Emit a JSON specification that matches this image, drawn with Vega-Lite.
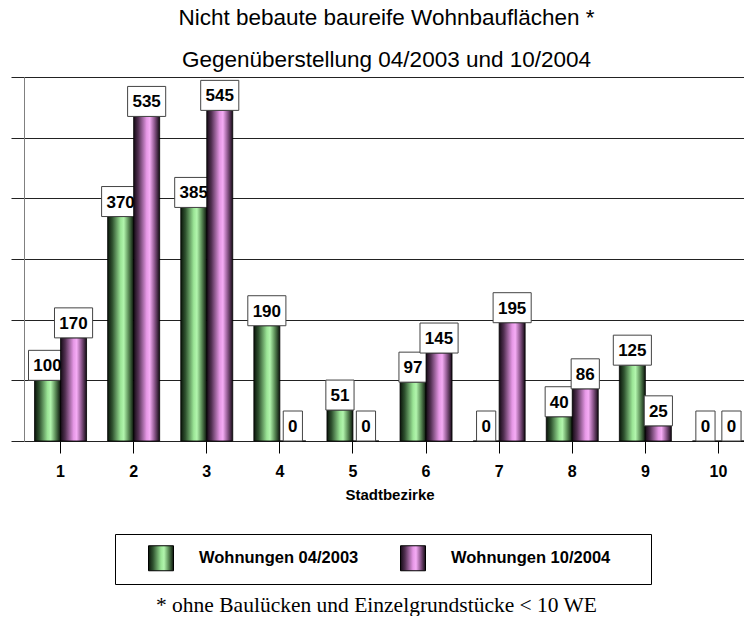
{
  "$schema": "https://vega.github.io/schema/vega-lite/v6.json",
  "padding": {"left": 10, "right": 0, "top": 7, "bottom": 0},
  "background": "white",
  "config": {"view": {"stroke": null}, "font": "Liberation Sans"},
  "title": {
    "text": "* ohne Baulücken und Einzelgrundstücke < 10 WE",
    "orient": "bottom",
    "anchor": "middle",
    "frame": "group",
    "font": "Liberation Serif",
    "fontSize": 21.5,
    "fontWeight": "normal",
    "color": "#000",
    "offset": 10,
    "dx": -8
  },
  "datasets": {
    "wohn": [
      {"bezirk": 1, "serie": "Wohnungen 04/2003", "wert": 100},
      {"bezirk": 1, "serie": "Wohnungen 10/2004", "wert": 170},
      {"bezirk": 2, "serie": "Wohnungen 04/2003", "wert": 370},
      {"bezirk": 2, "serie": "Wohnungen 10/2004", "wert": 535},
      {"bezirk": 3, "serie": "Wohnungen 04/2003", "wert": 385},
      {"bezirk": 3, "serie": "Wohnungen 10/2004", "wert": 545},
      {"bezirk": 4, "serie": "Wohnungen 04/2003", "wert": 190},
      {"bezirk": 4, "serie": "Wohnungen 10/2004", "wert": 0},
      {"bezirk": 5, "serie": "Wohnungen 04/2003", "wert": 51},
      {"bezirk": 5, "serie": "Wohnungen 10/2004", "wert": 0},
      {"bezirk": 6, "serie": "Wohnungen 04/2003", "wert": 97},
      {"bezirk": 6, "serie": "Wohnungen 10/2004", "wert": 145},
      {"bezirk": 7, "serie": "Wohnungen 04/2003", "wert": 0},
      {"bezirk": 7, "serie": "Wohnungen 10/2004", "wert": 195},
      {"bezirk": 8, "serie": "Wohnungen 04/2003", "wert": 40},
      {"bezirk": 8, "serie": "Wohnungen 10/2004", "wert": 86},
      {"bezirk": 9, "serie": "Wohnungen 04/2003", "wert": 125},
      {"bezirk": 9, "serie": "Wohnungen 10/2004", "wert": 25},
      {"bezirk": 10, "serie": "Wohnungen 04/2003", "wert": 0},
      {"bezirk": 10, "serie": "Wohnungen 10/2004", "wert": 0}
    ]
  },
  "vconcat": [
    {
      "width": 721,
      "height": 364,
      "data": {"name": "wohn"},
      "title": {
        "text": ["Nicht bebaute baureife Wohnbauflächen *", "Gegenüberstellung 04/2003 und 10/2004"],
        "anchor": "middle",
        "frame": "group",
        "font": "Liberation Sans",
        "fontSize": 22.5,
        "fontWeight": "normal",
        "lineHeight": 42,
        "baseline": "alphabetic",
        "offset": -13,
        "dx": 2,
        "color": "#000"
      },
      "encoding": {
        "x": {
          "field": "bezirk",
          "type": "ordinal",
          "scale": {"paddingInner": 0, "paddingOuter": 0, "range": [0, 731]},
          "axis": {
            "labelAngle": 0,
            "labelFont": "Liberation Sans",
            "labelFontWeight": "bold",
            "labelFontSize": 16,
            "labelColor": "#000",
            "labelPadding": 10,
            "tickSize": 12,
            "tickColor": "#000",
            "domain": false,
            "grid": false,
            "title": "Stadtbezirke",
            "titleFont": "Liberation Sans",
            "titleFontSize": 15,
            "titleFontWeight": "bold",
            "titleColor": "#000",
            "titlePadding": 8
          }
        },
        "xOffset": {
          "field": "serie",
          "type": "nominal",
          "scale": {"domain": ["Wohnungen 04/2003", "Wohnungen 10/2004"], "paddingInner": 0, "paddingOuter": 0.406}
        },
        "y": {
          "field": "wert",
          "type": "quantitative",
          "scale": {"domain": [0, 600], "nice": false},
          "axis": {
            "labels": false,
            "ticks": true,
            "tickSize": 13,
            "tickColor": "#222",
            "domainColor": "#808080",
            "grid": true,
            "gridColor": "#222",
            "gridOpacity": 1,
            "gridWidth": 1,
            "values": [0, 100, 200, 300, 400, 500, 600],
            "title": null
          }
        }
      },
      "layer": [
        {
          "transform": [{"filter": "datum.serie === 'Wohnungen 04/2003'"}],
          "mark": {"type": "bar", "stroke": "#000", "strokeWidth": 0.8},
          "encoding": {
            "fill": {
              "field": "serie",
              "type": "nominal",
              "scale": {
                "domain": ["Wohnungen 04/2003", "Wohnungen 10/2004"],
                "range": [
                  {"expr": "{gradient: 'linear', x1: 0, y1: 0, x2: 1, y2: 0, stops: [{offset: 0, color: '#0a140a'}, {offset: 0.18, color: '#2f522f'}, {offset: 0.5, color: '#9be596'}, {offset: 0.62, color: '#b2f5ad'}, {offset: 0.8, color: '#5d8f59'}, {offset: 1, color: '#0a140a'}]}"},
                  {"expr": "{gradient: 'linear', x1: 0, y1: 0, x2: 1, y2: 0, stops: [{offset: 0, color: '#140a14'}, {offset: 0.18, color: '#523052'}, {offset: 0.5, color: '#e597e5'}, {offset: 0.62, color: '#f5acf5'}, {offset: 0.8, color: '#8f598f'}, {offset: 1, color: '#140a14'}]}"}
                ]
              },
              "legend": {
                "orient": "none",
                "legendX": 91,
                "legendY": 457,
                "direction": "horizontal",
                "title": "\u00a0",
                "titleOrient": "right",
                "titleFontSize": 6,
                "titlePadding": 30,
                "padding": 11,
                "symbolOffset": 22,
                "symbolType": "square",
                "symbolSize": 625,
                "symbolStrokeColor": "#000",
                "symbolStrokeWidth": 1,
                "symbolOpacity": 1,
                "labelOffset": 25,
                "columnPadding": 19,
                "labelFont": "Liberation Sans",
                "labelFontSize": 16.5,
                "labelFontWeight": "bold",
                "labelColor": "#000",
                "labelLimit": 300,
                "strokeColor": "#000",
                "fillColor": "white"
              }
            }
          }
        },
        {
          "transform": [{"filter": "datum.serie === 'Wohnungen 04/2003'"}],
          "mark": {
            "type": "point",
            "filled": true,
            "fill": "white",
            "stroke": "#444",
            "strokeWidth": 1,
            "size": 900,
            "opacity": 1,
            "yOffset": -15
          },
          "encoding": {
            "shape": {
              "condition": [
                {"test": "datum.wert >= 100", "value": "M-1.27,-1H1.27V1H-1.27Z"},
                {"test": "datum.wert >= 10", "value": "M-0.94,-1H0.94V1H-0.94Z"}
              ],
              "value": "M-0.64,-1H0.64V1H-0.64Z"
            }
          }
        },
        {
          "transform": [{"filter": "datum.serie === 'Wohnungen 04/2003'"}],
          "mark": {
            "type": "text",
            "font": "Liberation Sans",
            "fontSize": 17,
            "fontWeight": "bold",
            "baseline": "middle",
            "yOffset": -14,
            "color": "#000"
          },
          "encoding": {
            "text": {"field": "wert", "type": "quantitative"}
          }
        },
        {
          "transform": [{"filter": "datum.serie === 'Wohnungen 10/2004'"}],
          "mark": {"type": "bar", "stroke": "#000", "strokeWidth": 0.8},
          "encoding": {
            "fill": {
              "field": "serie",
              "type": "nominal",
              "scale": {
                "domain": ["Wohnungen 04/2003", "Wohnungen 10/2004"],
                "range": [
                  {"expr": "{gradient: 'linear', x1: 0, y1: 0, x2: 1, y2: 0, stops: [{offset: 0, color: '#0a140a'}, {offset: 0.18, color: '#2f522f'}, {offset: 0.5, color: '#9be596'}, {offset: 0.62, color: '#b2f5ad'}, {offset: 0.8, color: '#5d8f59'}, {offset: 1, color: '#0a140a'}]}"},
                  {"expr": "{gradient: 'linear', x1: 0, y1: 0, x2: 1, y2: 0, stops: [{offset: 0, color: '#140a14'}, {offset: 0.18, color: '#523052'}, {offset: 0.5, color: '#e597e5'}, {offset: 0.62, color: '#f5acf5'}, {offset: 0.8, color: '#8f598f'}, {offset: 1, color: '#140a14'}]}"}
                ]
              }
            }
          }
        },
        {
          "transform": [{"filter": "datum.serie === 'Wohnungen 10/2004'"}],
          "mark": {
            "type": "point",
            "filled": true,
            "fill": "white",
            "stroke": "#444",
            "strokeWidth": 1,
            "size": 900,
            "opacity": 1,
            "yOffset": -15
          },
          "encoding": {
            "shape": {
              "condition": [
                {"test": "datum.wert >= 100", "value": "M-1.27,-1H1.27V1H-1.27Z"},
                {"test": "datum.wert >= 10", "value": "M-0.94,-1H0.94V1H-0.94Z"}
              ],
              "value": "M-0.64,-1H0.64V1H-0.64Z"
            }
          }
        },
        {
          "transform": [{"filter": "datum.serie === 'Wohnungen 10/2004'"}],
          "mark": {
            "type": "text",
            "font": "Liberation Sans",
            "fontSize": 17,
            "fontWeight": "bold",
            "baseline": "middle",
            "yOffset": -14,
            "color": "#000"
          },
          "encoding": {
            "text": {"field": "wert", "type": "quantitative"}
          }
        }
      ]
    }
  ]
}
